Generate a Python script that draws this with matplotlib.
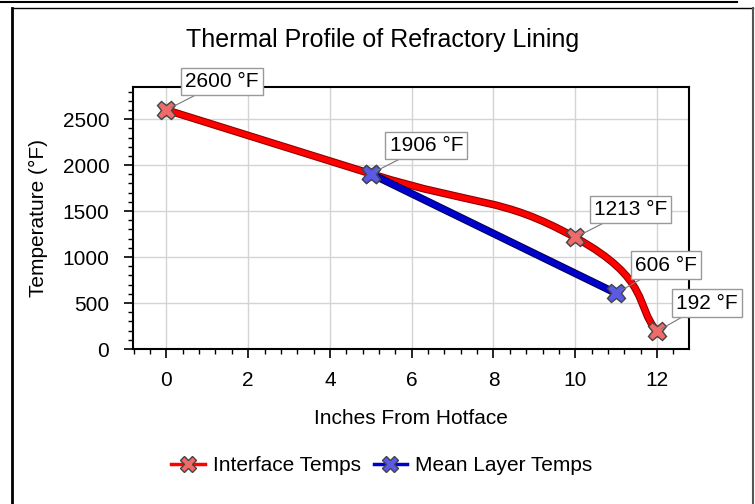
import numpy as np
import matplotlib
matplotlib.use("Agg")
import matplotlib.pyplot as plt
from matplotlib.path import Path
from matplotlib.patches import PathPatch
from matplotlib.lines import Line2D
import matplotlib.patheffects as pe

# data
interface_x = [0, 5, 10, 12]
interface_t = [2600, 1906, 1213, 192]
mean_x = [5, 11]
mean_t = [1906, 606]
label_x = [0, 5, 10, 11, 12]
label_t = [2600, 1906, 1213, 606, 192]

red = "#ff0000"
red_mark = "#f06a6a"
blue = "#0000cc"
blue_mark = "#5a5ae6"

plt.rcParams['font.family'] = ['Liberation Sans', 'DejaVu Sans']

fig = plt.figure(figsize=(7.55, 5.04), dpi=100)
ax = fig.add_axes([0.176, 0.3075, 0.7364, 0.52])

# outer frame of the control
fig.add_artist(Line2D([0, 0.976], [0.996, 0.996], transform=fig.transFigure, color="black", lw=1.5))
fig.add_artist(Line2D([0.016, 0.016], [0, 0.984], transform=fig.transFigure, color="black", lw=2))
fig.add_artist(Line2D([0.016, 0.998], [0.984, 0.984], transform=fig.transFigure, color="black", lw=1))
fig.add_artist(Line2D([0.998, 0.998], [0, 0.984], transform=fig.transFigure, color="#555555", lw=1.5))

# smooth spline for the interface temps (cardinal spline, tension 0.8)
def spline_path(xs, ys, tension=0.8):
    pts = np.column_stack([xs, ys]).astype(float)
    n = len(pts)
    verts = [pts[0]]
    codes = [Path.MOVETO]
    k = tension / 3.0
    for i in range(n - 1):
        p0 = pts[i - 1] if i > 0 else pts[i]
        p1 = pts[i]
        p2 = pts[i + 1]
        p3 = pts[i + 2] if i + 2 < n else pts[i + 1]
        c1 = p1 + k * (p2 - p0)
        c2 = p2 - k * (p3 - p1)
        verts += [c1, c2, p2]
        codes += [Path.CURVE4] * 3
    return Path(verts, codes)

edge = [pe.Stroke(linewidth=5.5, foreground="#8a0000"), pe.Normal()]
ax.add_patch(PathPatch(spline_path(interface_x, interface_t), fill=False,
                       edgecolor=red, lw=4, zorder=3, path_effects=edge,
                       capstyle="round"))
ax.plot(mean_x, mean_t, color=blue, lw=4, zorder=3, solid_capstyle="round",
        path_effects=[pe.Stroke(linewidth=5.5, foreground="#000055"), pe.Normal()])

ax.plot(interface_x, interface_t, linestyle="none", marker="X", markersize=13,
        markerfacecolor=red_mark, markeredgecolor="#444444", markeredgewidth=1, zorder=5)
ax.plot(mean_x, mean_t, linestyle="none", marker="X", markersize=13,
        markerfacecolor=blue_mark, markeredgecolor="#444444", markeredgewidth=1, zorder=5)

# value labels
for x, t in zip(label_x, label_t):
    ax.annotate(f"{t} °F", xy=(x, t), xytext=(13.5, 13.5), textcoords="offset points",
                fontsize=15, ha="left", va="bottom", zorder=6,
                bbox=dict(boxstyle="square,pad=0.2", fc="white", ec="#999999", lw=1),
                arrowprops=dict(arrowstyle="-", color="#777777", lw=0.8,
                                shrinkA=0, shrinkB=4))

ax.set_xlim(-0.82, 12.78)
ax.set_ylim(0, 2850)
ax.set_xticks(range(0, 13, 2))
ax.set_xticks(np.arange(-0.8, 12.8, 0.4), minor=True)
ax.set_yticks(range(0, 2501, 500))
ax.set_yticks(range(0, 2801, 100), minor=True)
ax.grid(True, which="major", color="#d4d4d4", lw=1)
ax.set_axisbelow(True)
ax.tick_params(which="major", direction="out", length=6.5, width=1.2, labelsize=15)
ax.tick_params(axis="x", which="major", pad=9.5)
ax.tick_params(axis="y", which="major", pad=10.5)
ax.tick_params(which="minor", direction="out", length=3.6, width=1)
for s in ax.spines.values():
    s.set_linewidth(1.5)
    s.set_color("black")

fig.text(0.544, 0.1706, "Inches From Hotface", ha="center", va="center", fontsize=15)
fig.text(0.0503, 0.567, "Temperature (°F)", ha="center", va="center", rotation=90, fontsize=15)
fig.text(0.507, 0.9206, "Thermal Profile of Refractory Lining", ha="center", va="center", fontsize=18)

handles = [
    Line2D([], [], color=red, lw=2.5, marker="X", markersize=11,
           markerfacecolor=red_mark, markeredgecolor="#444444"),
    Line2D([], [], color=blue, lw=2.5, marker="X", markersize=11,
           markerfacecolor=blue_mark, markeredgecolor="#444444"),
]
fig.legend(handles, ["Interface Temps", "Mean Layer Temps"], loc="center",
           bbox_to_anchor=(0.506, 0.0754), ncol=2, frameon=False, fontsize=15,
           handlelength=1.6, columnspacing=0.6, handletextpad=0.4)

fig.savefig("out.png", dpi=100)
